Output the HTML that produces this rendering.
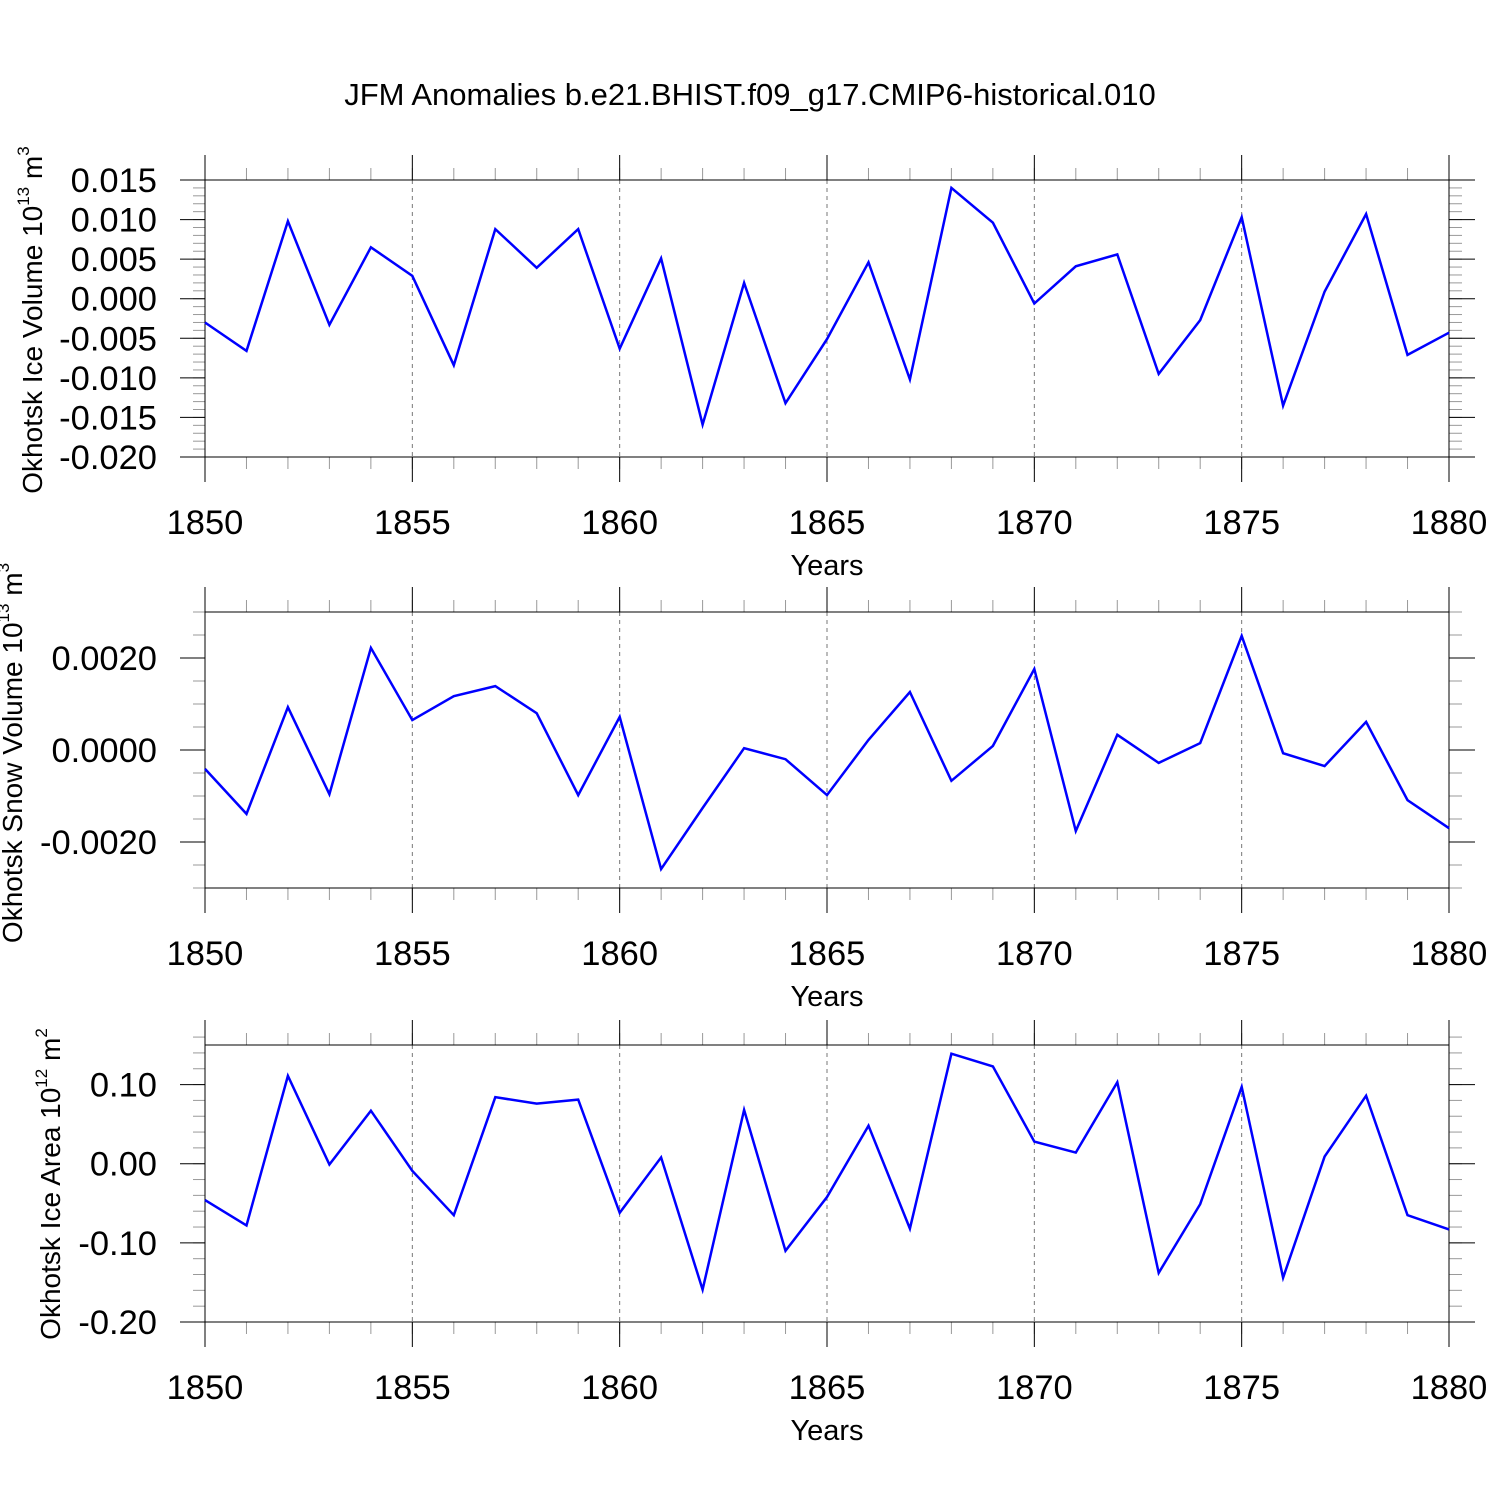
<!DOCTYPE html>
<html><head><meta charset="utf-8"><style>
body{margin:0;background:#fff}
svg{display:block;font-family:"Liberation Sans",sans-serif}
</style></head><body>
<svg id="c" width="1500" height="1500" viewBox="0 0 1500 1500">
<text x="750" y="105" font-size="31" text-anchor="middle">JFM Anomalies b.e21.BHIST.f09_g17.CMIP6-historical.010</text>
</svg>
<script>
const years=[];for(let y=1850;y<=1880;y++)years.push(y);
const iceVolume=[-0.003,-0.0066,0.0098,-0.0033,0.0065,0.0029,-0.0084,0.0088,0.0039,0.0088,-0.0063,0.0051,-0.0159,0.002,-0.0132,-0.0051,0.0046,-0.0102,0.014,0.0096,-0.0006,0.0041,0.0056,-0.0095,-0.0027,0.0103,-0.0135,0.0009,0.0107,-0.0071,-0.0043];
const snowVolume=[-0.00041,-0.00139,0.00093,-0.00096,0.00222,0.00065,0.00117,0.00139,0.0008,-0.00098,0.00072,-0.00259,-0.00126,0.00004,-0.0002,-0.00098,0.00022,0.00126,-0.00067,0.00009,0.00176,-0.00176,0.00033,-0.00028,0.00015,0.00248,-0.00007,-0.00035,0.00061,-0.00109,-0.0017];
const iceArea=[-0.046,-0.078,0.111,-0.001,0.067,-0.009,-0.065,0.084,0.076,0.081,-0.062,0.008,-0.159,0.068,-0.110,-0.042,0.048,-0.082,0.139,0.123,0.028,0.014,0.103,-0.138,-0.051,0.097,-0.144,0.009,0.086,-0.065,-0.083];
const xTicks=[1850,1855,1860,1865,1870,1875,1880];
const yTicks1=[0.015,0.010,0.005,0.000,-0.005,-0.010,-0.015,-0.020];
const yLabels1=["0.015","0.010","0.005","0.000","-0.005","-0.010","-0.015","-0.020"];
const yTicks2=[0.002,0,-0.002];
const yLabels2=["0.0020","0.0000","-0.0020"];
const yTicks3=[0.1,0,-0.1,-0.2];
const yLabels3=["0.10","0.00","-0.10","-0.20"];
const svg=document.getElementById('c');const NS='http://www.w3.org/2000/svg';
function mk(t,a,p){const e=document.createElementNS(NS,t);for(const k in a)e.setAttribute(k,a[k]);(p||svg).appendChild(e);return e;}
const X0=205,X1=1449;
function sx(y){return X0+(y-1850)/30*(X1-X0);}
function panel(name,top,bot,ymin,ymax,minorStep,vals,ticks,labels,titleParts,tx,ty){
 const g=mk('g',{});
 
 
 const sy=v=>bot-(v-ymin)/(ymax-ymin)*(bot-top);
 for(const t of xTicks.slice(1,-1)){const l=mk('line',{x1:sx(t),x2:sx(t),y1:top,y2:bot,stroke:'#777','stroke-width':1,'stroke-dasharray':'4,4'},g);}
 const n=Math.round((ymax-ymin)/minorStep);
 for(let i=0;i<=n;i++){const y=sy(ymin+i*minorStep);mk('line',{x1:193,x2:X0,y1:y,y2:y,stroke:'#999','stroke-width':1},g);mk('line',{x1:X1,x2:X1+13,y1:y,y2:y,stroke:'#999','stroke-width':1},g);}
 for(const yr of years){const x=sx(yr);mk('line',{x1:x,x2:x,y1:top-12,y2:top,stroke:'#999','stroke-width':1},g);mk('line',{x1:x,x2:x,y1:bot,y2:bot+12,stroke:'#999','stroke-width':1},g);}
 ticks.forEach((t,i)=>{const y=sy(t);mk('line',{x1:180,x2:X0,y1:y,y2:y,stroke:'#000','stroke-width':1},g);mk('line',{x1:X1,x2:X1+26,y1:y,y2:y,stroke:'#000','stroke-width':1},g);
  const tl=mk('text',{x:157,y:y+12,'font-size':34.5,'text-anchor':'end'},g);tl.textContent=labels[i];});
 for(const t of xTicks){const x=sx(t);mk('line',{x1:x,x2:x,y1:top-25,y2:top,stroke:'#000','stroke-width':1},g);mk('line',{x1:x,x2:x,y1:bot,y2:bot+25,stroke:'#000','stroke-width':1},g);
  const tl=mk('text',{x:x,y:bot+77,'font-size':34.5,'text-anchor':'middle'},g);tl.textContent=t;}
 mk('rect',{x:X0,y:top,width:X1-X0,height:bot-top,fill:'none',stroke:'#000','stroke-width':1},g);
 const xt=mk('text',{x:827,y:bot+118,'font-size':29,'text-anchor':'middle'},g);xt.textContent='Years';
 const yt=mk('text',{x:0,y:0,'font-size':28,'text-anchor':'middle',transform:`translate(${tx},${ty}) rotate(-90)`},g);
 
 titleParts.forEach(p=>{const s=mk('tspan',p.sup?{'font-size':17,dy:p.dy}:{dy:p.dy||0},yt);s.textContent=p.t;});
 const pts=vals.map((v,i)=>sx(years[i]).toFixed(1)+','+sy(v).toFixed(1)).join(' ');
 const pl=mk('polyline',{points:pts,fill:'none',stroke:'#0000ff','stroke-width':2.5,'stroke-linejoin':'miter'},g);
 
}
panel('ice-volume-panel',180,457,-0.020,0.015,0.001,iceVolume,yTicks1,yLabels1,[{t:'Okhotsk Ice Volume 10'},{t:'13',sup:1,dy:-13},{t:' m',dy:13},{t:'3',sup:1,dy:-13}],42,320);
panel('snow-volume-panel',612,888,-0.003,0.003,0.0005,snowVolume,yTicks2,yLabels2,[{t:'Okhotsk Snow Volume 10'},{t:'13',sup:1,dy:-13},{t:' m',dy:13},{t:'3',sup:1,dy:-13}],22,753);
panel('ice-area-panel',1045,1322,-0.2,0.15,0.02,iceArea,yTicks3,yLabels3,[{t:'Okhotsk Ice Area 10'},{t:'12',sup:1,dy:-13},{t:' m',dy:13},{t:'2',sup:1,dy:-13}],60,1184);
</script>
</body></html>
